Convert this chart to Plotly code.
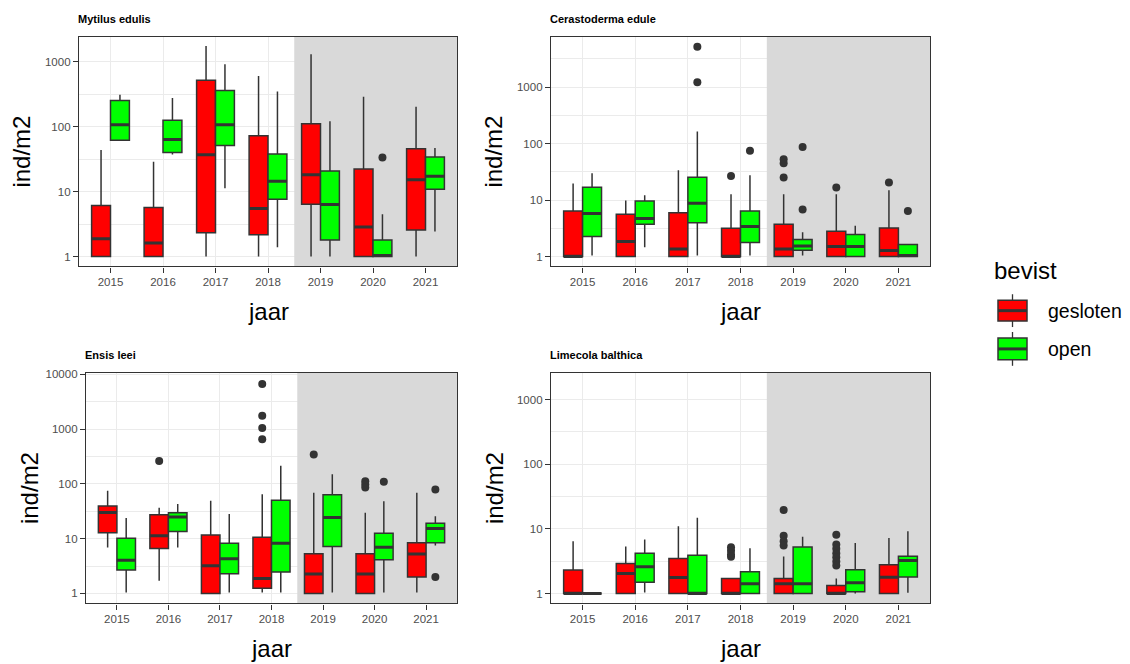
import plotly.graph_objects as go

# ---------------------------------------------------------------- data
years = ["2015", "2016", "2017", "2018", "2019", "2020", "2021"]
groups = ["gesloten", "open"]
species = ["Mytilus edulis", "Cerastoderma edule", "Ensis leei", "Limecola balthica"]

# box statistics per year (ind/m2): lower whisker, Q1, median, Q3, upper whisker
mytilus_gesloten_lower = [1, 1, 1, 1, 1, 1, 1]
mytilus_gesloten_q1 = [1, 1, 2.33, 2.17, 6.4, 1, 2.56]
mytilus_gesloten_med = [1.87, 1.62, 37, 5.5, 18.3, 2.85, 15.2]
mytilus_gesloten_q3 = [6.1, 5.7, 524, 73, 111, 22.4, 45.8]
mytilus_gesloten_upper = [43.7, 29, 1760, 610, 1310, 291, 204]
mytilus_gesloten_out_year = []
mytilus_gesloten_out_val = []

mytilus_open_lower = [62, 37.5, 11.3, 1.39, 1, 1, 2.42]
mytilus_open_q1 = [62, 40.3, 51.5, 7.66, 1.8, 1, 10.9]
mytilus_open_med = [108, 63.7, 108, 14.5, 6.35, 1.04, 17.3]
mytilus_open_q3 = [255, 126, 363, 38, 20.8, 1.8, 34.1]
mytilus_open_upper = [312, 277, 921, 351, 122, 4.5, 46.9]
mytilus_open_out_year = ["2020"]
mytilus_open_out_val = [33.7]

cerastoderma_gesloten_lower = [1, 1, 1, 1, 1, 1, 1]
cerastoderma_gesloten_q1 = [1, 1, 1, 1, 1, 1, 1]
cerastoderma_gesloten_med = [1.0, 1.84, 1.36, 1.0, 1.36, 1.5, 1.28]
cerastoderma_gesloten_q3 = [6.4, 5.6, 5.96, 3.16, 3.71, 2.8, 3.2]
cerastoderma_gesloten_upper = [19.6, 9.8, 33.6, 12.7, 12.7, 12.7, 14.9]
cerastoderma_gesloten_out_year = ["2018", "2019", "2019", "2019", "2020", "2021"]
cerastoderma_gesloten_out_val = [26.7, 25, 45, 53, 16.6, 20.4]

cerastoderma_open_lower = [1.04, 1.46, 1.04, 1.04, 1.04, 1, 1]
cerastoderma_open_q1 = [2.25, 3.71, 3.97, 1.76, 1.29, 1, 1]
cerastoderma_open_med = [5.8, 4.73, 8.8, 3.38, 1.54, 1.5, 1.04]
cerastoderma_open_q3 = [16.9, 9.6, 25.3, 6.4, 1.99, 2.44, 1.63]
cerastoderma_open_upper = [29.8, 12.2, 163, 27.4, 2.68, 3.52, 1.63]
cerastoderma_open_out_year = ["2017", "2017", "2018", "2019", "2019", "2021"]
cerastoderma_open_out_val = [1225, 5200, 74.6, 6.8, 86.6, 6.4]

ensis_gesloten_lower = [6.9, 1.7, 1, 1.04, 1, 1, 1.04]
ensis_gesloten_q1 = [12.8, 6.63, 1, 1.25, 1, 1, 2.0]
ensis_gesloten_med = [30.2, 11.3, 3.22, 1.87, 2.27, 2.27, 5.24]
ensis_gesloten_q3 = [39.4, 27.4, 11.7, 10.6, 5.31, 5.31, 8.4]
ensis_gesloten_upper = [74.7, 36.7, 49.2, 65, 68.7, 29.8, 68.7]
ensis_gesloten_out_year = ["2016", "2018", "2018", "2018", "2018", "2019", "2020", "2020", "2020"]
ensis_gesloten_out_val = [261, 6680, 1757, 1050, 654, 345, 112, 98, 86]

ensis_open_lower = [1.04, 6.9, 1.04, 1.04, 1.04, 1.04, 7.5]
ensis_open_q1 = [2.69, 13.5, 2.3, 2.47, 7.2, 4.13, 8.4]
ensis_open_med = [4.02, 24.9, 4.31, 8.3, 24.5, 7.0, 15.3]
ensis_open_q3 = [10.2, 29.8, 8.3, 50.6, 63.2, 12.6, 19.1]
ensis_open_upper = [23.9, 42.8, 28.2, 215, 150, 48.5, 25.6]
ensis_open_out_year = ["2020", "2021", "2021"]
ensis_open_out_val = [110, 78.9, 2.0]

limecola_gesloten_lower = [1, 1, 1, 1, 1, 1, 1]
limecola_gesloten_q1 = [1, 1, 1, 1, 1, 1, 1]
limecola_gesloten_med = [1, 2.03, 1.76, 1, 1.42, 1, 1.78]
limecola_gesloten_q3 = [2.31, 2.92, 3.48, 1.7, 1.7, 1.33, 2.78]
limecola_gesloten_upper = [6.42, 5.32, 11.0, 1.7, 3.73, 1.7, 7.22]
limecola_gesloten_out_year = ["2018", "2018", "2018", "2018",
                              "2019", "2019", "2019", "2019",
                              "2020", "2020", "2020", "2020", "2020", "2020", "2020"]
limecola_gesloten_out_val = [5.2, 4.6, 4.0, 3.7,
                             19.6, 7.84, 6.4, 5.5,
                             8.1, 5.7, 4.9, 4.2, 3.65, 3.13, 2.72]

limecola_open_lower = [1, 1.04, 1, 1, 1, 1.0, 1.03]
limecola_open_q1 = [1, 1.49, 1, 1, 1, 1.06, 1.8]
limecola_open_med = [1, 2.59, 1.0, 1.42, 1.42, 1.47, 3.24]
limecola_open_q3 = [1, 4.2, 3.92, 2.17, 5.25, 2.33, 3.78]
limecola_open_upper = [1, 6.81, 14.8, 5.0, 7.57, 6.05, 9.14]
limecola_open_out_year = []
limecola_open_out_val = []

# y tick labels per panel
y_ticks_3 = [1, 10, 100, 1000]
y_ticks_4 = [1, 10, 100, 1000, 10000]

# first year of the shaded period
shade_from = "2019"

# ---------------------------------------------------------------- styling
W, H = 1130, 664
FILL = {"gesloten": "#FF0000", "open": "#00FF00"}
EDGE = "#333333"
GRID = "#EBEBEB"
SHADE = "#D9D9D9"
FONT = "Liberation Sans, Arial, sans-serif"
BOX_W = 0.36
DODGE = {"gesloten": -0.18, "open": 0.18}
X_RANGE = [-0.6, len(years) - 0.4]


def px_x(v):
    return v / W


def px_y(v):
    return 1 - v / H


stats = {
    ("Mytilus edulis", "gesloten"): (mytilus_gesloten_lower, mytilus_gesloten_q1, mytilus_gesloten_med,
                                     mytilus_gesloten_q3, mytilus_gesloten_upper,
                                     mytilus_gesloten_out_year, mytilus_gesloten_out_val),
    ("Mytilus edulis", "open"): (mytilus_open_lower, mytilus_open_q1, mytilus_open_med,
                                 mytilus_open_q3, mytilus_open_upper,
                                 mytilus_open_out_year, mytilus_open_out_val),
    ("Cerastoderma edule", "gesloten"): (cerastoderma_gesloten_lower, cerastoderma_gesloten_q1,
                                         cerastoderma_gesloten_med, cerastoderma_gesloten_q3,
                                         cerastoderma_gesloten_upper,
                                         cerastoderma_gesloten_out_year, cerastoderma_gesloten_out_val),
    ("Cerastoderma edule", "open"): (cerastoderma_open_lower, cerastoderma_open_q1,
                                     cerastoderma_open_med, cerastoderma_open_q3,
                                     cerastoderma_open_upper,
                                     cerastoderma_open_out_year, cerastoderma_open_out_val),
    ("Ensis leei", "gesloten"): (ensis_gesloten_lower, ensis_gesloten_q1, ensis_gesloten_med,
                                 ensis_gesloten_q3, ensis_gesloten_upper,
                                 ensis_gesloten_out_year, ensis_gesloten_out_val),
    ("Ensis leei", "open"): (ensis_open_lower, ensis_open_q1, ensis_open_med,
                             ensis_open_q3, ensis_open_upper,
                             ensis_open_out_year, ensis_open_out_val),
    ("Limecola balthica", "gesloten"): (limecola_gesloten_lower, limecola_gesloten_q1,
                                        limecola_gesloten_med, limecola_gesloten_q3,
                                        limecola_gesloten_upper,
                                        limecola_gesloten_out_year, limecola_gesloten_out_val),
    ("Limecola balthica", "open"): (limecola_open_lower, limecola_open_q1, limecola_open_med,
                                    limecola_open_q3, limecola_open_upper,
                                    limecola_open_out_year, limecola_open_out_val),
}

# panel frames in pixels (left, right, top, bottom) and log10 y-range
panels = [
    dict(name="Mytilus edulis", frame=(79, 457, 33, 264), yrange=[-0.153, 3.388], ticks=y_ticks_3),
    dict(name="Cerastoderma edule", frame=(551, 930, 33, 264), yrange=[-0.176, 3.892], ticks=y_ticks_3),
    dict(name="Ensis leei", frame=(86, 457, 371, 603), yrange=[-0.181, 4.03], ticks=y_ticks_4),
    dict(name="Limecola balthica", frame=(551, 930, 371, 603), yrange=[-0.153, 3.414], ticks=y_ticks_3),
]

fig = go.Figure()
annotations = []
shapes = []
layout_axes = {}
pos = {y: i for i, y in enumerate(years)}

for k, p in enumerate(panels, start=1):
    sfx = "" if k == 1 else str(k)
    xa, ya = "x" + sfx, "y" + sfx
    left, right, top, bottom = p["frame"]
    lo_y, hi_y = 10 ** (p["yrange"][0] - 0.3), 10 ** (p["yrange"][1] + 0.3)

    # shaded period, drawn as a bar so it sits above the grid and below the boxes
    s0 = pos[shade_from] - 0.5
    fig.add_trace(go.Bar(
        x=[(s0 + X_RANGE[1]) / 2], y=[hi_y - lo_y], base=[lo_y], width=[X_RANGE[1] - s0],
        marker=dict(color=SHADE, line=dict(width=0)), xaxis=xa, yaxis=ya,
        showlegend=False, hoverinfo="skip",
    ))

    for g in groups:
        lo, q1, med, q3, hi, oy, ov = stats[(p["name"], g)]
        centers = [pos[y] + DODGE[g] for y in years]
        fig.add_trace(go.Box(
            x=centers, q1=q1, median=med, q3=q3, lowerfence=lo, upperfence=hi,
            width=BOX_W, fillcolor=FILL[g], line=dict(color=EDGE, width=1.5),
            whiskerwidth=0, boxpoints=False, xaxis=xa, yaxis=ya,
            showlegend=False, hoverinfo="skip", orientation="v",
        ))
        # thicker median bars
        mx, my = [], []
        for c, m in zip(centers, med):
            mx += [c - BOX_W / 2, c + BOX_W / 2, None]
            my += [m, m, None]
        fig.add_trace(go.Scatter(
            x=mx, y=my, mode="lines", line=dict(color=EDGE, width=3),
            xaxis=xa, yaxis=ya, showlegend=False, hoverinfo="skip",
        ))
        if ov:
            fig.add_trace(go.Scatter(
                x=[pos[y] + DODGE[g] for y in oy], y=ov, mode="markers",
                marker=dict(color=EDGE, size=8), xaxis=xa, yaxis=ya,
                showlegend=False, hoverinfo="skip",
            ))

    minor_vals = [10 ** (e + 0.5) for e in range(-1, 5)]
    layout_axes["xaxis" + sfx] = dict(
        domain=[px_x(left), px_x(right)], anchor=ya, range=X_RANGE,
        tickmode="array", tickvals=list(range(len(years))), ticktext=years,
        showgrid=True, gridcolor=GRID, gridwidth=1, zeroline=False,
        showline=True, mirror=True, linecolor=EDGE, linewidth=1.3,
        ticks="outside", ticklen=5, tickwidth=1.1, tickcolor=EDGE,
        tickfont=dict(family=FONT, size=11.5, color="#4D4D4D"),
    )
    layout_axes["yaxis" + sfx] = dict(
        domain=[px_y(bottom), px_y(top)], anchor=xa, type="log", range=p["yrange"],
        tickmode="array", tickvals=p["ticks"], ticktext=[str(t) for t in p["ticks"]],
        showgrid=True, gridcolor=GRID, gridwidth=1, zeroline=False,
        minor=dict(tickmode="array", tickvals=minor_vals, showgrid=True,
                   gridcolor=GRID, gridwidth=0.6, ticks=""),
        showline=True, mirror=True, linecolor=EDGE, linewidth=1.3,
        ticks="outside", ticklen=5, tickwidth=1.1, tickcolor=EDGE,
        tickfont=dict(family=FONT, size=11.5, color="#4D4D4D"),
    )

    # panel title
    annotations.append(dict(text="<b>" + p["name"] + "</b>", xref="paper", yref="paper",
                            x=px_x(left - 3), y=px_y(top - 18), xanchor="left", yanchor="middle",
                            showarrow=False, font=dict(family=FONT, size=11, color="#000000")))
    # axis titles
    annotations.append(dict(text="jaar", xref="paper", yref="paper",
                            x=px_x((left + right) / 2), y=px_y(bottom + 45), xanchor="center",
                            yanchor="middle", showarrow=False,
                            font=dict(family=FONT, size=24, color="#000000")))
    annotations.append(dict(text="ind/m2", xref="paper", yref="paper",
                            x=px_x(left - 57), y=px_y((top + bottom) / 2),
                            xanchor="center", yanchor="middle",
                            textangle=-90, showarrow=False,
                            font=dict(family=FONT, size=24, color="#000000")))

# legend drawn as box glyphs
annotations.append(dict(text="bevist", xref="paper", yref="paper", x=px_x(992), y=px_y(268),
                        xanchor="left", yanchor="middle", showarrow=False,
                        font=dict(family=FONT, size=24, color="#000000")))
for g, (ktop, kbot) in zip(groups, [(298, 319), (336, 358)]):
    cx = 1012.5
    kmid = (ktop + kbot) / 2
    shapes.append(dict(type="line", xref="paper", yref="paper", x0=px_x(cx), x1=px_x(cx),
                       y0=px_y(ktop - 6), y1=px_y(kbot + 6), line=dict(color=EDGE, width=1.3)))
    shapes.append(dict(type="rect", xref="paper", yref="paper", x0=px_x(998), x1=px_x(1027),
                       y0=px_y(kbot), y1=px_y(ktop), fillcolor=FILL[g],
                       line=dict(color=EDGE, width=1.5)))
    shapes.append(dict(type="line", xref="paper", yref="paper", x0=px_x(998), x1=px_x(1027),
                       y0=px_y(kmid), y1=px_y(kmid), line=dict(color=EDGE, width=3)))
    annotations.append(dict(text=g, xref="paper", yref="paper", x=px_x(1046), y=px_y(kmid),
                            xanchor="left", yanchor="middle", showarrow=False,
                            font=dict(family=FONT, size=19.5, color="#000000")))

fig.update_layout(
    width=W, height=H, margin=dict(l=0, r=0, t=0, b=0),
    paper_bgcolor="white", plot_bgcolor="white",
    boxmode="overlay", barmode="overlay", showlegend=False,
    annotations=annotations, shapes=shapes,
    font=dict(family=FONT),
    **layout_axes,
)

fig.write_html("out.html")
